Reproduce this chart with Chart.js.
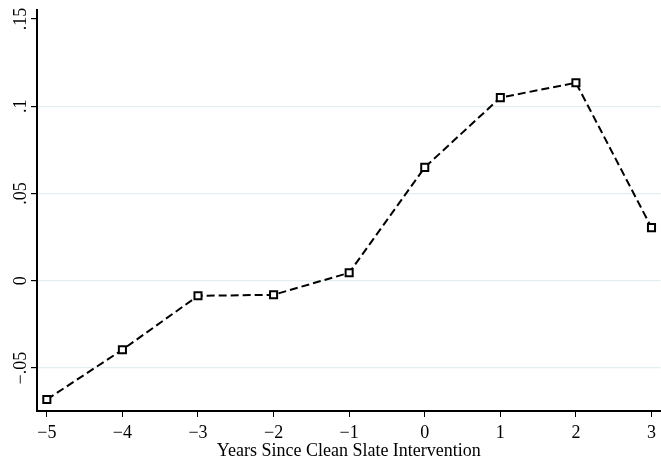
<!DOCTYPE html>
<html>
<head>
<meta charset="utf-8">
<script src="https://cdn.jsdelivr.net/npm/chart.js@4"></script>
<style>
  html, body { margin: 0; padding: 0; background: #fff; }
  #wrap { width: 661px; height: 457px; }
</style>
</head>
<body>
<div id="wrap"><canvas id="chart"></canvas></div>
<script>
const years = [-5, -4, -3, -2, -1, 0, 1, 2, 3];
const effect = [-0.068, -0.0395, -0.0086, -0.008, 0.0046, 0.065, 0.105, 0.1135, 0.0305];
const yTicks = [-0.05, 0, 0.05, 0.1, 0.15];
const yTickLabels = ["\u2212.05", "0", ".05", ".1", ".15"];
const xTickLabels = ["\u22125", "\u22124", "\u22123", "\u22122", "\u22121", "0", "1", "2", "3"];

const font = { family: "'Liberation Serif', 'DejaVu Serif', serif", size: 18 };

new Chart(document.getElementById("chart"), {
  type: "line",
  data: {
    datasets: [
      {
        data: years.map((x, i) => ({ x: x, y: effect[i] })),
        borderColor: "#000",
        borderWidth: 2,
        borderDash: [8, 4],
        pointStyle: "rect",
        pointRadius: 5,
        pointBorderWidth: 2,
        pointBackgroundColor: "#fff",
        pointBorderColor: "#000",
        tension: 0,
      },
    ],
  },
  options: {
    responsive: true,
    maintainAspectRatio: false,
    animation: false,
    layout: { autoPadding: false, padding: { left: 0, right: 0, top: 10, bottom: 0 } },
    plugins: {
      legend: { display: false },
      tooltip: { enabled: false },
    },
    scales: {
      x: {
        type: "linear",
        min: -5.13,
        max: 3.12,
        afterBuildTicks: (axis) => {
          axis.ticks = years.map((v) => ({ value: v }));
        },
        afterFit: (axis) => {
          axis.height = 46;
        },
        ticks: {
          color: "#000",
          font: font,
          padding: 5,
          maxRotation: 0,
          callback: (v) => xTickLabels[years.indexOf(v)],
        },
        grid: {
          drawOnChartArea: false,
          tickLength: 6,
          tickColor: "#000",
        },
        border: { color: "#000", width: 2 },
        title: {
          display: true,
          text: "Years Since Clean Slate Intervention",
          color: "#000",
          font: font,
          padding: { top: 0, bottom: -5 },
        },
      },
      y: {
        min: -0.0746,
        max: 0.1552,
        afterBuildTicks: (axis) => {
          axis.ticks = yTicks.map((v) => ({ value: v }));
        },
        afterFit: (axis) => {
          axis.width = 37;
        },
        ticks: {
          color: "#000",
          font: font,
          padding: -7,
          minRotation: 90,
          maxRotation: 90,
          crossAlign: "center",
          callback: (v) => yTickLabels[yTicks.indexOf(v)],
        },
        grid: {
          color: (ctx) => (ctx.tick && ctx.tick.value === 0.15 ? "rgba(0,0,0,0)" : "#e3eef0"),
          lineWidth: 1.2,
          tickLength: 6,
          tickColor: "#000",
        },
        border: { color: "#000", width: 2 },
      },
    },
  },
});
</script>
</body>
</html>
